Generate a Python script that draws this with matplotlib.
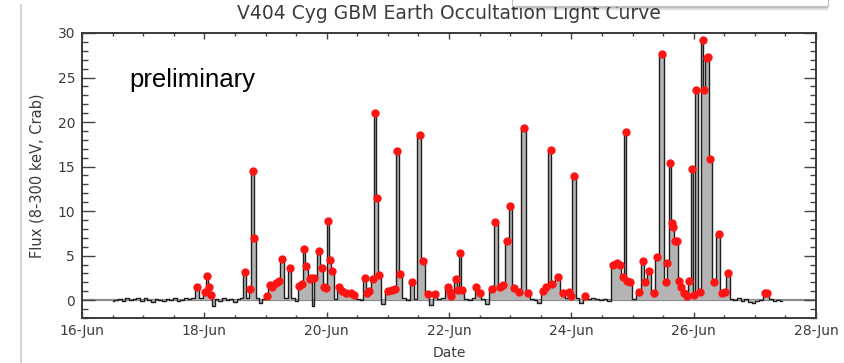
import numpy as np
import matplotlib.pyplot as plt
from matplotlib.patches import Rectangle
from matplotlib.lines import Line2D
from matplotlib.ticker import MultipleLocator

# light curve: day of June 2015, flux in Crab units
days = [16.50, 16.56, 16.62, 16.68, 16.74, 16.80, 16.86, 16.92, 16.98, 17.04,
        17.10, 17.16, 17.22, 17.28, 17.34, 17.40, 17.46, 17.52, 17.58, 17.64,
        17.70, 17.76, 17.82, 17.88, 17.96, 18.01, 18.04, 18.08, 18.11, 18.14,
        18.20, 18.26, 18.32, 18.38, 18.44, 18.50, 18.56, 18.62, 18.66, 18.71,
        18.75, 18.79, 18.82, 18.86, 18.92, 18.98, 19.02, 19.07, 19.11, 19.17,
        19.22, 19.27, 19.32, 19.40, 19.45, 19.50, 19.55, 19.59, 19.63, 19.67,
        19.72, 19.75, 19.77, 19.80, 19.87, 19.92, 19.96, 19.99, 20.02, 20.05,
        20.09, 20.14, 20.20, 20.25, 20.32, 20.40, 20.45, 20.52, 20.58, 20.62,
        20.66, 20.70, 20.75, 20.79, 20.82, 20.86, 20.92, 21.00, 21.06, 21.11,
        21.15, 21.20, 21.26, 21.32, 21.39, 21.45, 21.52, 21.57, 21.65, 21.70,
        21.77, 21.83, 21.90, 21.98, 22.01, 22.04, 22.11, 22.14, 22.18, 22.22,
        22.28, 22.34, 22.40, 22.44, 22.50, 22.56, 22.62, 22.70, 22.76, 22.84,
        22.89, 22.95, 23.00, 23.07, 23.15, 23.22, 23.29, 23.35, 23.42, 23.47,
        23.53, 23.59, 23.66, 23.69, 23.78, 23.86, 23.92, 23.96, 23.99, 24.04,
        24.10, 24.16, 24.22, 24.28, 24.35, 24.42, 24.49, 24.56, 24.62, 24.68,
        24.74, 24.79, 24.84, 24.89, 24.91, 24.96, 25.02, 25.10, 25.17, 25.20,
        25.27, 25.35, 25.40, 25.48, 25.55, 25.57, 25.61, 25.64, 25.67, 25.70,
        25.73, 25.76, 25.80, 25.85, 25.89, 25.93, 25.97, 26.00, 26.03, 26.10,
        26.15, 26.17, 26.21, 26.24, 26.27, 26.33, 26.41, 26.46, 26.51, 26.56,
        26.62, 26.68, 26.74, 26.80, 26.86, 26.92, 26.98, 27.04, 27.10, 27.16,
        27.20, 27.26, 27.32, 27.38, 27.44]
flux = [-0.1, 0.0, 0.1, -0.1, 0.2, 0.0, 0.1, 0.3, -0.1, 0.2,
        0.0, -0.2, 0.1, 0.0, -0.1, 0.1, 0.0, 0.2, -0.1, 0.0,
        0.3, 0.1, 0.2, 1.5, 0.3, 0.9, 2.7, 1.5, 0.6, -0.6,
        0.1, -0.1, 0.2, 0.0, 0.1, -0.2, 0.1, 0.2, 3.2, 0.2,
        1.3, 14.5, 7.0, 0.3, -0.3, 0.1, 0.5, 1.7, 1.5, 1.9,
        2.2, 4.6, 0.2, 3.6, 0.2, -0.1, 1.6, 1.8, 5.7, 3.8,
        2.4, 2.5, -0.6, 2.5, 5.5, 3.6, 1.5, 1.4, 8.9, 4.5,
        3.3, 0.1, 1.5, 1.0, 0.8, 0.8, 0.6, 0.1, 0.0, 2.5,
        0.8, 1.0, 2.4, 21.0, 11.5, 2.8, -0.4, 1.0, 1.1, 1.3,
        16.7, 2.9, 0.2, 0.0, 2.0, 0.1, 18.6, 4.4, 0.7, -0.5,
        0.7, 0.1, 0.2, 1.5, 0.9, 0.5, 2.4, 1.1, 5.3, 1.2,
        0.1, 0.0, 0.2, 1.5, 0.8, 0.1, -0.4, 1.3, 8.8, 1.5,
        1.7, 6.6, 10.6, 1.4, 0.9, 19.3, 0.8, 0.1, 0.0, -0.3,
        1.0, 1.5, 16.9, 1.8, 2.6, 0.8, 0.2, 0.9, 0.5, 13.9,
        0.2, -0.3, 0.5, 0.1, 0.2, 0.1, 0.0, 0.1, -0.1, 4.0,
        4.2, 3.9, 2.6, 18.9, 2.1, 2.0, 0.1, 0.9, 4.4, 2.0,
        3.3, 0.8, 4.9, 27.6, 2.0, 4.2, 15.4, 8.7, 8.2, 6.7,
        6.7, 2.1, 1.5, 0.8, 0.5, 2.1, 14.7, 0.6, 23.6, 0.9,
        29.2, 23.6, 27.2, 27.3, 15.8, 2.0, 7.4, 0.8, 0.9, 3.0,
        0.1, 0.0, 0.2, -0.1, 0.1, -0.2, -0.3, -0.1, 0.0, 0.8,
        0.8, 0.1, -0.1, 0.0, -0.1]

xtick_days = [16, 18, 20, 22, 24, 26, 28]
xtick_labels = ['16-Jun', '18-Jun', '20-Jun', '22-Jun', '24-Jun', '26-Jun', '28-Jun']
ytick_vals = [0, 5, 10, 15, 20, 25, 30]

t = np.array(days)
f = np.array(flux)
det = f >= 0.45   # red points = detections

txtc = '#3c3c3c'
fig = plt.figure(figsize=(8.45, 3.63), dpi=100)
ax = fig.add_axes([82/845, 1-318/363, 734/845, 285/363])

ax.axhline(0, color='#8c8c8c', lw=1.6, zorder=1)
ax.fill_between(t, f, 0, step='mid', color='#b4b4b4', lw=0, zorder=2)
ax.plot(t, f, color='#1e1e1e', lw=1.0, drawstyle='steps-mid', zorder=3)
ax.plot(t[det], f[det], 'o', color='#ff1414', ms=6, mec='none', zorder=4)

ax.set_xlim(16, 28)
ax.set_ylim(-2, 30)
ax.set_xticks(xtick_days)
ax.set_xticklabels(xtick_labels)
ax.set_yticks(ytick_vals)
ax.xaxis.set_minor_locator(MultipleLocator(0.5))
ax.yaxis.set_minor_locator(MultipleLocator(1))
ax.tick_params(axis='x', which='major', direction='in', length=4, width=1,
               top=True, labelsize=10, labelcolor=txtc, pad=4, color='#444')
ax.tick_params(axis='x', which='minor', direction='in', length=2, width=1,
               top=True, color='#444')
ax.tick_params(axis='y', which='major', direction='in', length=9, width=1,
               right=True, labelsize=10, labelcolor=txtc, pad=5, color='#444')
ax.tick_params(axis='y', which='minor', direction='in', length=4.5, width=1,
               right=True, color='#444')
for s in ax.spines.values():
    s.set_color('#3a3a3a')
    s.set_linewidth(1.4)

ax.set_title('V404 Cyg GBM Earth Occultation Light Curve', fontsize=13.5,
             color=txtc, pad=10)
ax.set_xlabel('Date', fontsize=10, color=txtc, labelpad=6)
ax.set_ylabel('Flux (8-300 keV, Crab)', fontsize=10.5, color=txtc, labelpad=9)
ax.text(0.065, 0.835, 'preliminary', transform=ax.transAxes, fontsize=18.5,
        family='Liberation Sans', color='black', va='center')

# page decorations: left border and overlapping box at top right
fig.add_artist(Line2D([21/845, 21/845], [0, 1-5/363], color='#d4d4d4', lw=1.5))
for k, a in enumerate([0.10, 0.10, 0.08, 0.06, 0.04]):
    fig.add_artist(Rectangle((512/845, (1-6/363) - (k+1)/363), 316/845, 10/363,
                             facecolor='black', alpha=a, lw=0))
fig.add_artist(Rectangle((512/845, 1-6/363), 316/845, 10/363,
                         facecolor='white', edgecolor='#c0c0c0', lw=0.8))

fig.savefig('out.png', dpi=100)
